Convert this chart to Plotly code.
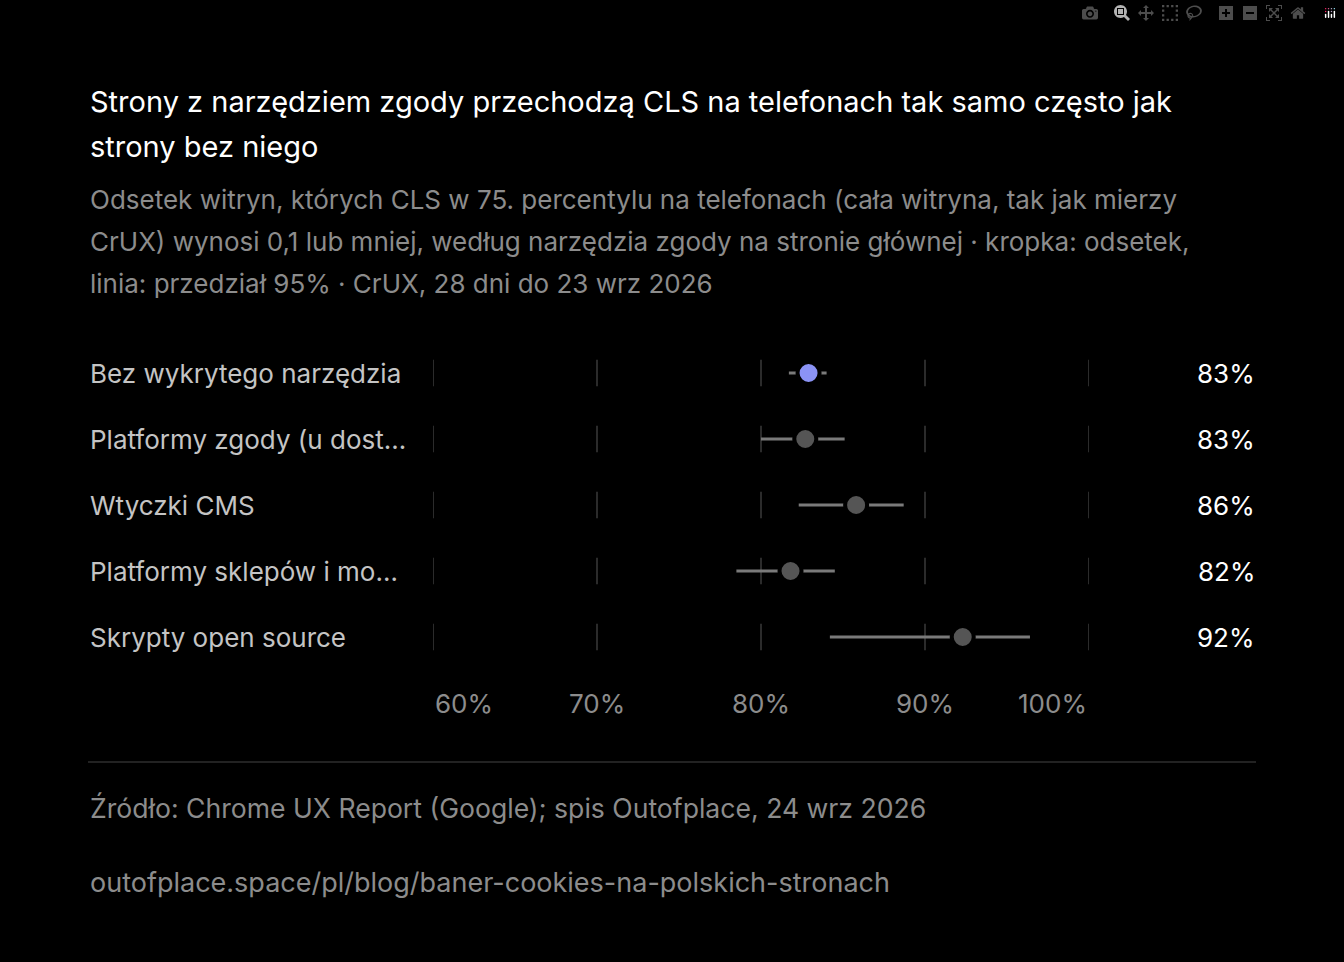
import plotly.graph_objects as go

categories = ["Bez wykrytego narzędzia", "Platformy zgody (u dost…", "Wtyczki CMS",
              "Platformy sklepów i mo…", "Skrypty open source"]
share = [82.9, 82.7, 85.8, 81.8, 92.3]
ci_low = [81.7, 80.0, 82.3, 78.5, 84.2]
ci_high = [84.0, 85.1, 88.7, 84.5, 96.4]
value_labels = ["83%", "83%", "86%", "82%", "92%"]
tick_vals = [60, 70, 80, 90, 100]
tick_text = ["60%", "70%", "80%", "90%", "100%"]

title_lines = ["Strony z narzędziem zgody przechodzą CLS na telefonach tak samo często jak",
               "strony bez niego"]
subtitle_lines = ["Odsetek witryn, których CLS w 75. percentylu na telefonach (cała witryna, tak jak mierzy",
                  "CrUX) wynosi 0,1 lub mniej, według narzędzia zgody na stronie głównej · kropka: odsetek,",
                  "linia: przedział 95% · CrUX, 28 dni do 23 wrz 2026"]
source = "Źródło: Chrome UX Report (Google); spis Outofplace, 24 wrz 2026"
url = "outofplace.space/pl/blog/baner-cookies-na-polskich-stronach"

FONT = "Inter"
L, R, T, B = 433, 1089, 340, 670

def px(p):
    return (p - L) / (R - L)

def py(p):
    return (B - p) / (B - T)

fig = go.Figure()

# short grid segments per row
for i in range(len(categories)):
    for t in tick_vals:
        fig.add_shape(type="line", x0=t, x1=t, y0=i - 0.2, y1=i + 0.2,
                      xref="x", yref="y", line=dict(color="#3a3a3a", width=1.5), layer="below")

for i, c in enumerate(categories):
    fig.add_trace(go.Scatter(x=[ci_low[i], ci_high[i]], y=[i, i], mode="lines",
                             line=dict(color="#7a7a7a", width=3), showlegend=False, hoverinfo="skip"))
colors = ["#8b93f5"] + ["#555555"] * (len(categories) - 1)
fig.add_trace(go.Scatter(x=share, y=list(range(len(categories))), mode="markers",
                         marker=dict(size=22, color=colors, line=dict(color="#000000", width=4)),
                         showlegend=False))

ann = []
for i, c in enumerate(categories):
    ann.append(dict(x=px(88), y=i, xref="paper", yref="y", text=c, showarrow=False,
                    xanchor="left", font=dict(size=26, color="#c4c4c4", family=FONT)))
    ann.append(dict(x=px(1257), y=i, xref="paper", yref="y", text=value_labels[i], showarrow=False,
                    xanchor="right", font=dict(size=26, color="#ffffff", family=FONT)))
for t, s in zip(tick_vals, tick_text):
    anchor = "left" if t == tick_vals[0] else ("right" if t == tick_vals[-1] else "center")
    ann.append(dict(x=t, y=py(703), xref="x", yref="paper", text=s, showarrow=False,
                    xanchor=anchor, yanchor="middle", font=dict(size=26, color="#8c8c8c", family=FONT)))

for k, line in enumerate(title_lines):
    ann.append(dict(x=px(88), y=py(101 + 46 * k), xref="paper", yref="paper", xanchor="left",
                    yanchor="middle", showarrow=False, text=line,
                    font=dict(size=29, color="#ffffff", family=FONT)))
for k, line in enumerate(subtitle_lines):
    ann.append(dict(x=px(88), y=py(199 + 42 * k), xref="paper", yref="paper", xanchor="left",
                    yanchor="middle", showarrow=False, text=line,
                    font=dict(size=26, color="#8c8c8c", family=FONT)))
ann.append(dict(x=px(88), y=py(808), xref="paper", yref="paper", xanchor="left", yanchor="middle",
                showarrow=False, text=source, font=dict(size=26.6, color="#8c8c8c", family=FONT)))
ann.append(dict(x=px(88), y=py(882), xref="paper", yref="paper", xanchor="left", yanchor="middle",
                showarrow=False, text=url, font=dict(size=27, color="#8c8c8c", family=FONT)))

fig.add_shape(type="line", x0=px(88), x1=px(1256), y0=py(762), y1=py(762), xref="paper", yref="paper",
              line=dict(color="#2e2e2e", width=1.5))

fig.update_layout(
    width=1344, height=962, paper_bgcolor="#000000", plot_bgcolor="#000000",
    margin=dict(l=L, r=1344 - R, t=T, b=962 - B),
    xaxis=dict(range=[60, 100], showgrid=False, zeroline=False, showticklabels=False),
    yaxis=dict(range=[len(categories) - 0.5, -0.5], showgrid=False, zeroline=False, showticklabels=False),
    annotations=ann, font=dict(family=FONT),
)
fig.write_html("out.html",
               post_script="document.body.style.margin='0';document.body.style.background='#000';"
                           "document.body.style.overflow='hidden';")
